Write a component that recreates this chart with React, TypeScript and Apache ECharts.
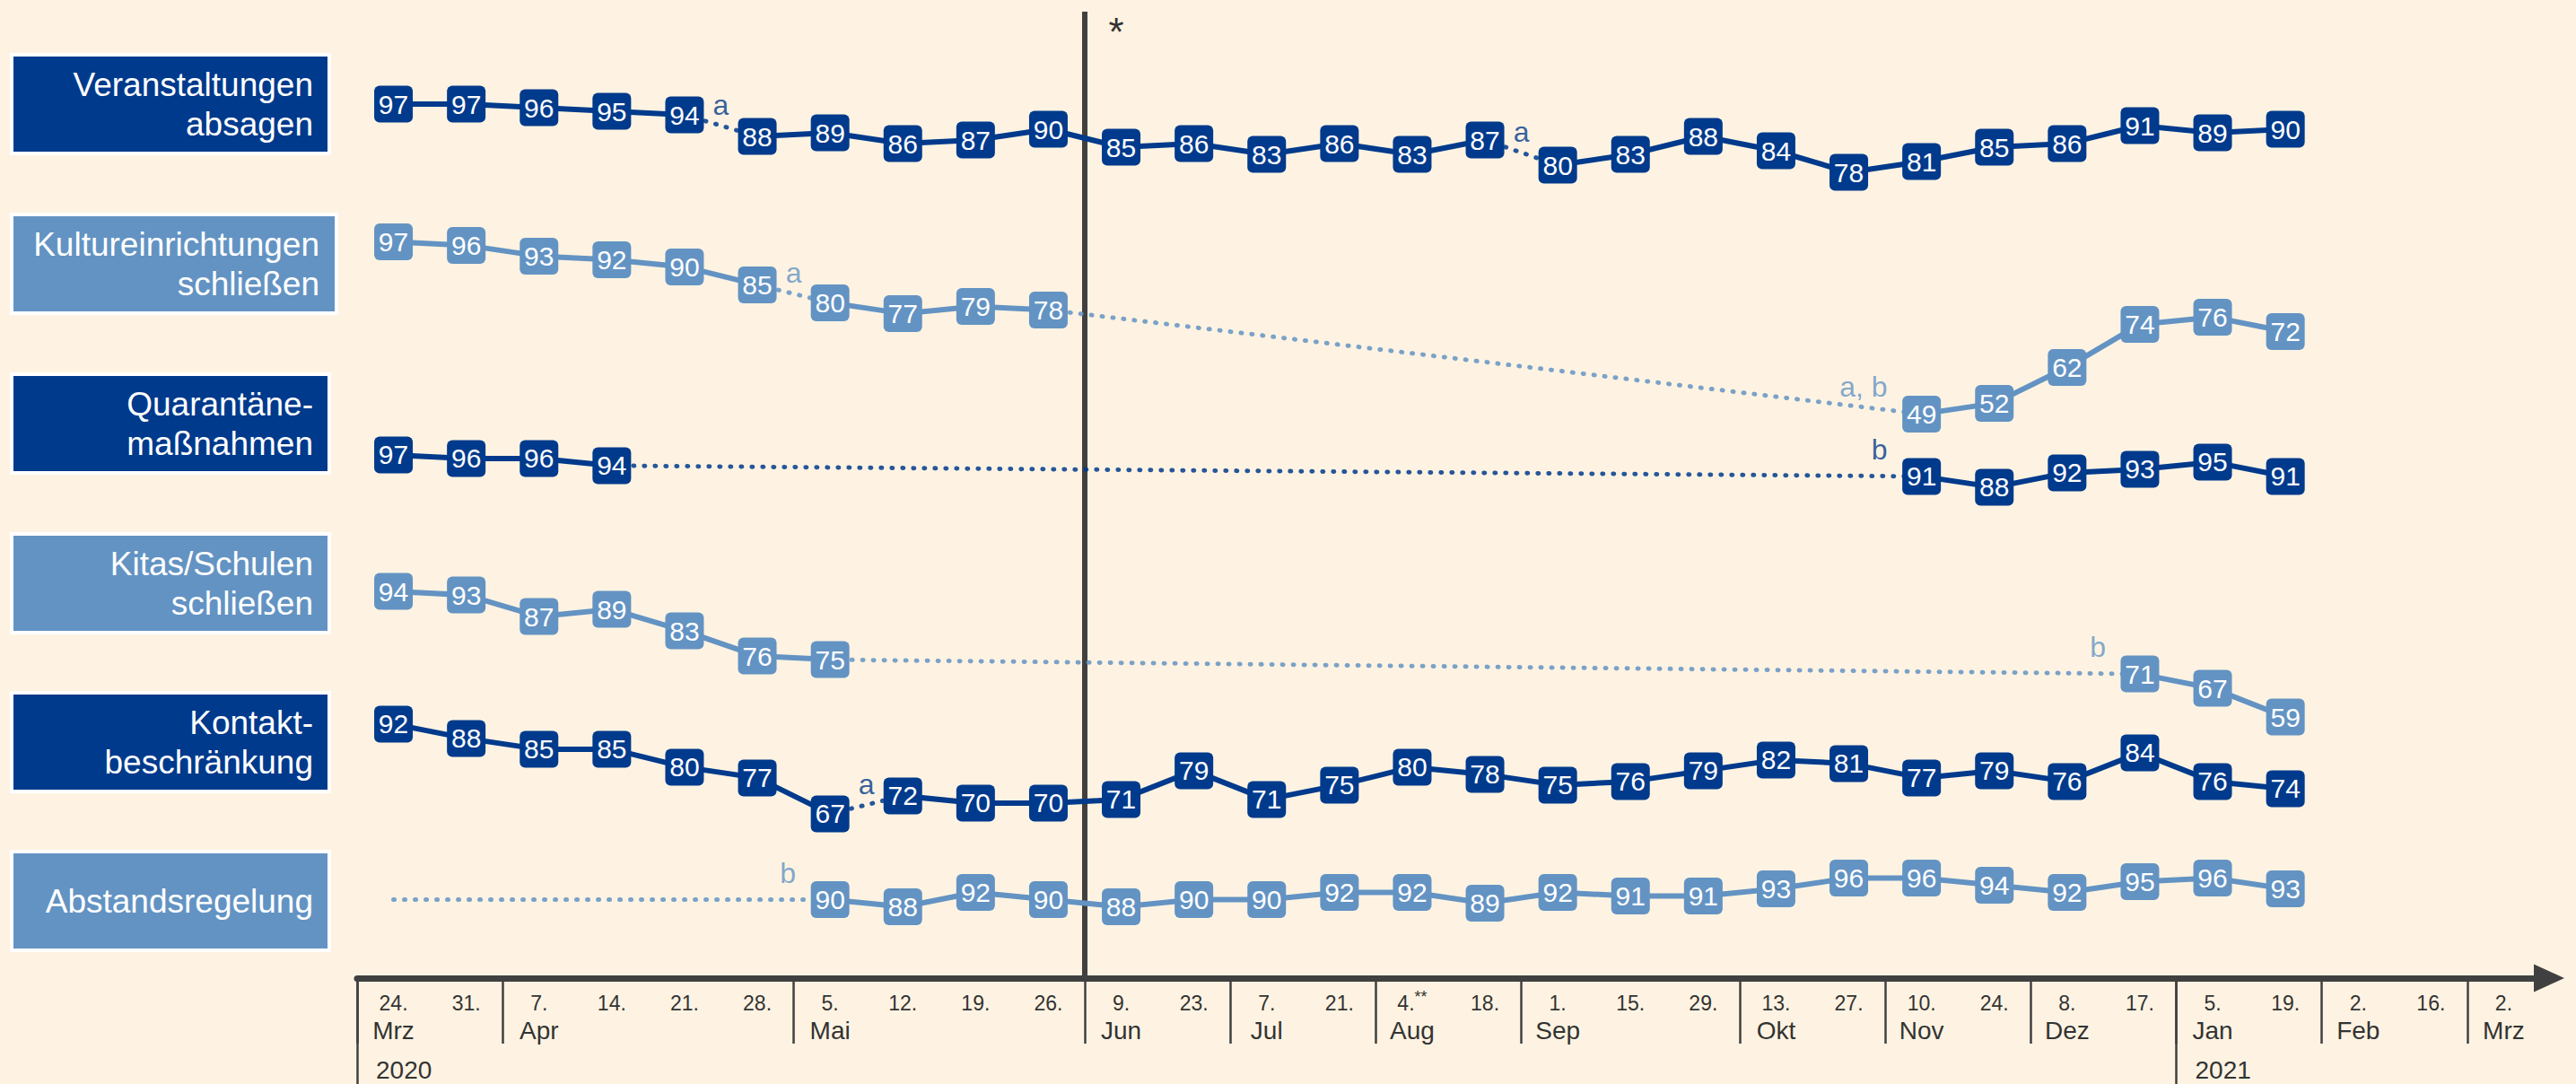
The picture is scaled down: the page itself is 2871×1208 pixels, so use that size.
import React, { useEffect, useRef } from 'react';
import * as echarts from 'echarts';

// ---------- data ----------
const dayLabels = ['24.', '31.', '7.', '14.', '21.', '28.', '5.', '12.', '19.', '26.', '9.', '23.', '7.', '21.', '4.**', '18.', '1.', '15.', '29.', '13.', '27.', '10.', '24.', '8.', '17.', '5.', '19.', '2.', '16.', '2.'];
const monthLabels = ['Mrz', '', 'Apr', '', '', '', 'Mai', '', '', '', 'Jun', '', 'Jul', '', 'Aug', '', 'Sep', '', '', 'Okt', '', 'Nov', '', 'Dez', '', 'Jan', '', 'Feb', '', 'Mrz'];
const yearLabels = ['2020', '2021'];
const yearStartIndex = [0, 25];

const rowNames = ['Veranstaltungen\nabsagen', 'Kultureinrichtungen\nschließen', 'Quarantäne-\nmaßnahmen', 'Kitas/Schulen\nschließen', 'Kontakt-\nbeschränkung', 'Abstandsregelung'];

const _ = null;
const veranstaltungen = [97, 97, 96, 95, 94, 88, 89, 86, 87, 90, 85, 86, 83, 86, 83, 87, 80, 83, 88, 84, 78, 81, 85, 86, 91, 89, 90, _, _, _];
const kultur = [97, 96, 93, 92, 90, 85, 80, 77, 79, 78, _, _, _, _, _, _, _, _, _, _, _, 49, 52, 62, 74, 76, 72, _, _, _];
const quarantaene = [97, 96, 96, 94, _, _, _, _, _, _, _, _, _, _, _, _, _, _, _, _, _, 91, 88, 92, 93, 95, 91, _, _, _];
const kitas = [94, 93, 87, 89, 83, 76, 75, _, _, _, _, _, _, _, _, _, _, _, _, _, _, _, _, _, 71, 67, 59, _, _, _];
const kontakt = [92, 88, 85, 85, 80, 77, 67, 72, 70, 70, 71, 79, 71, 75, 80, 78, 75, 76, 79, 82, 81, 77, 79, 76, 84, 76, 74, _, _, _];
const abstand = [_, _, _, _, _, _, 90, 88, 92, 90, 88, 90, 90, 92, 92, 89, 92, 91, 91, 93, 96, 96, 94, 92, 95, 96, 93, _, _, _];

// dotted links between survey waves (from index, to index, footnote, where footnote sits)
const veranstaltungenLinks = [{ from: 4, to: 5, note: 'a', at: 'mid' }, { from: 15, to: 16, note: 'a', at: 'mid' }];
const kulturLinks = [{ from: 5, to: 6, note: 'a', at: 'mid' }, { from: 9, to: 21, note: 'a, b', at: 'end' }];
const quarantaeneLinks = [{ from: 3, to: 21, note: 'b', at: 'end' }];
const kitasLinks = [{ from: 6, to: 24, note: 'b', at: 'end' }];
const kontaktLinks = [{ from: 6, to: 7, note: 'a', at: 'mid' }];
const abstandLinks = [{ from: 0, to: 6, note: 'b', at: 'end' }];

// ---------- style ----------
const FONT = '"Liberation Sans", Arial, Helvetica, sans-serif';
const DARK = '#003A8C';
const LIGHT = '#6393C3';
const AXIS = '#404040';
const TEXT = '#333333';
const BG = '#FEF3E2';

const GRID_LEFT = 398;
const GRID_WIDTH = 2433;
const BAND = GRID_WIDTH / dayLabels.length;
const rowTop = [104, 257.4, 494.9, 635.1, 774.9, 962.5];
const ROW_H = 240;
const boxTop = [63, 241, 419, 597, 774, 951];
const BOX_H = 106;

const rows = [
  { name: rowNames[0], values: veranstaltungen, links: veranstaltungenLinks, color: DARK },
  { name: rowNames[1], values: kultur, links: kulturLinks, color: LIGHT },
  { name: rowNames[2], values: quarantaene, links: quarantaeneLinks, color: DARK },
  { name: rowNames[3], values: kitas, links: kitasLinks, color: LIGHT },
  { name: rowNames[4], values: kontakt, links: kontaktLinks, color: DARK },
  { name: rowNames[5], values: abstand, links: abstandLinks, color: LIGHT },
];

const MARKER = 'path://M6,0H37A6,6,0,0,1,43,6V35A6,6,0,0,1,37,41H6A6,6,0,0,1,0,35V6A6,6,0,0,1,6,0Z';

function buildOption() {
  const boundaryKeys = Array.from({ length: dayLabels.length + 1 }, (_v, i) => String(i));
  const monthStarts = monthLabels.map((m, i) => (m ? i : -1)).filter((i) => i >= 0);
  const AXIS_GRID = rows.length;

  const grid: any[] = rows.map((_r, i) => ({ left: GRID_LEFT, width: GRID_WIDTH, top: rowTop[i], height: ROW_H }));
  grid.push({ left: GRID_LEFT, width: GRID_WIDTH, top: 13, height: 1080 });

  const xAxis: any[] = rows.map((_r, i) => ({ type: 'category', gridIndex: i, data: dayLabels, boundaryGap: true, show: false }));
  xAxis.push({
    type: 'category', gridIndex: AXIS_GRID, data: dayLabels, boundaryGap: true, position: 'bottom',
    axisLine: { show: true, onZero: false, symbol: ['none', 'triangle'], symbolSize: [31, 34], symbolOffset: [0, 10], lineStyle: { color: AXIS, width: 7 } },
    axisTick: { show: true, alignWithLabel: true, interval: 0, length: 4, lineStyle: { color: AXIS, width: 2 } },
    splitLine: { show: false },
    axisLabel: {
      show: true, interval: 0, margin: 12,
      formatter: (_v: string, i: number) => {
        const day = dayLabels[i];
        const dayPart = day.indexOf('**') >= 0 ? `{d|${day.replace('**', '')}}{s|**}` : `{d|${day}}`;
        return monthLabels[i] ? `${dayPart}\n{m|${monthLabels[i]}}` : dayPart;
      },
      rich: {
        d: { fontSize: 23, lineHeight: 31, color: TEXT, fontFamily: FONT },
        s: { fontSize: 18, lineHeight: 24, color: TEXT, fontFamily: FONT, verticalAlign: 'top' },
        m: { fontSize: 28, lineHeight: 31, color: TEXT, fontFamily: FONT },
      },
    },
  });
  xAxis.push({
    type: 'category', gridIndex: AXIS_GRID, data: boundaryKeys, boundaryGap: false, position: 'bottom',
    axisLine: { show: false, onZero: false }, axisLabel: { show: false }, splitLine: { show: false },
    axisTick: { show: true, interval: (i: number) => monthStarts.indexOf(i) >= 0, length: 73, lineStyle: { color: AXIS, width: 2.5 } },
  });
  xAxis.push({
    type: 'category', gridIndex: AXIS_GRID, data: boundaryKeys, boundaryGap: false, position: 'bottom',
    axisLine: { show: false, onZero: false }, splitLine: { show: false },
    axisTick: { show: true, interval: (i: number) => yearStartIndex.indexOf(i) >= 0, length: 125, lineStyle: { color: AXIS, width: 2.5 } },
    axisLabel: {
      show: true, interval: (i: number) => yearStartIndex.indexOf(i) >= 0, margin: 87,
      formatter: (_v: string, i: number) => { const k = yearStartIndex.indexOf(i); return k >= 0 ? yearLabels[k] : ''; },
      align: 'left', padding: [0, 0, 0, 21], fontSize: 28, lineHeight: 31, color: TEXT, fontFamily: FONT,
    },
  });

  const yAxis: any[] = rows.map((_r, i) => ({ type: 'value', gridIndex: i, min: 40, max: 100, show: false }));
  yAxis.push({ type: 'value', gridIndex: AXIS_GRID, min: 0, max: 1, show: false });

  const series: any[] = [];
  rows.forEach((row, ri) => {
    const { values, links, color } = row;
    // solid runs
    const segs: number[][] = [];
    let cur: number[] = [];
    values.forEach((v, k) => {
      if (v == null) { if (cur.length) segs.push(cur); cur = []; return; }
      const broken = links.some((l) => l.from === k - 1 && l.to === k);
      if (broken && cur.length) { segs.push(cur); cur = []; }
      cur.push(k);
    });
    if (cur.length) segs.push(cur);

    segs.forEach((seg) => {
      series.push({
        type: 'line', xAxisIndex: ri, yAxisIndex: ri, silent: true, clip: false, z: 3,
        data: values.map((v, k) => (seg.indexOf(k) >= 0 ? v : null)),
        connectNulls: false, symbol: MARKER, symbolSize: [43, 41], showSymbol: true, showAllSymbol: true,
        lineStyle: { color, width: 6 }, itemStyle: { color },
        label: { show: true, position: 'inside', color: '#ffffff', fontSize: 30, fontFamily: FONT },
      });
    });

    links.forEach((l) => {
      const toV = values[l.to] as number;
      const fromV = values[l.from] == null ? toV : (values[l.from] as number);
      series.push({
        type: 'line', xAxisIndex: ri, yAxisIndex: ri, silent: true, clip: false, z: 2,
        data: values.map((_v, k) => (k === l.from ? fromV : k === l.to ? toV : null)),
        connectNulls: true, showSymbol: false, symbol: 'none',
        lineStyle: { color, width: 5, type: [1, 11], cap: 'round', opacity: 0.85 },
      });
    });

    series.push({
      type: 'scatter', xAxisIndex: ri, yAxisIndex: ri, silent: true, z: 4, symbolSize: 1,
      itemStyle: { color: 'transparent' },
      label: { show: true, position: 'inside', color, fontSize: 32, fontFamily: FONT },
      data: links.map((l) => {
        const toV = values[l.to] as number;
        const fromV = values[l.from] == null ? toV : (values[l.from] as number);
        const mid = l.at === 'mid';
        return {
          value: mid ? [l.from, (fromV + toV) / 2] : [l.to, toV],
          label: { formatter: l.note, offset: mid ? [BAND / 2, -23] : [-38, -30], align: mid ? 'center' : 'right', verticalAlign: 'middle' },
        };
      }),
    });
  });

  // vertical divider at boundary before 9. Jun
  series.push({
    type: 'line', xAxisIndex: rows.length + 1, yAxisIndex: rows.length, silent: true, clip: false, z: 1,
    data: [[10, 0], [10, 1]], showSymbol: false, symbol: 'none', lineStyle: { color: AXIS, width: 6 },
  });

  const graphic: any[] = [];
  rows.forEach((row, i) => {
    const wide = i === 1;
    graphic.push({
      type: 'rect', shape: { x: 13, y: boxTop[i] - 2, width: wide ? 362 : 354, height: BOX_H + 4 },
      style: { fill: row.color, stroke: '#ffffff', lineWidth: 4 }, z: 10,
    });
    graphic.push({
      type: 'text', x: wide ? 356 : 349, y: boxTop[i] + BOX_H / 2, z: 11,
      style: {
        text: row.name, fill: '#ffffff', fontSize: 37, fontFamily: FONT, lineHeight: 44,
        align: 'right', verticalAlign: 'middle', textAlign: 'right', textVerticalAlign: 'middle',
      },
    });
  });
  graphic.push({
    type: 'text', x: 1244, y: 13, z: 11,
    style: { text: '*', fill: TEXT, fontSize: 44, fontFamily: FONT, align: 'center', verticalAlign: 'top', textAlign: 'center', textVerticalAlign: 'top' },
  });

  return {
    animation: false,
    backgroundColor: BG,
    textStyle: { fontFamily: FONT },
    grid, xAxis, yAxis, series, graphic,
  };
}

export default function App() {
  const ref = useRef<HTMLDivElement>(null);
  useEffect(() => {
    document.body.style.margin = '0';
    document.body.style.background = BG;
    const chart = echarts.init(ref.current as HTMLDivElement, null, { renderer: 'svg' });
    chart.setOption(buildOption() as any);
    return () => chart.dispose();
  }, []);
  return <div ref={ref} style={{ position: 'absolute', left: 0, top: 0, width: 2871, height: 1208, background: BG }} />;
}
